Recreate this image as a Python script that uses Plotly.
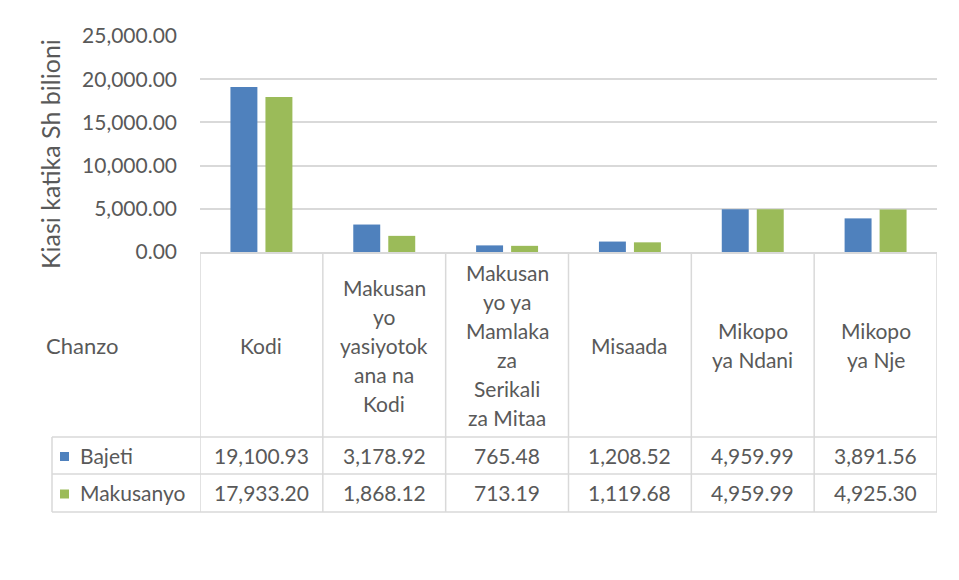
import plotly.graph_objects as go

# ---- data ----
categories = ["Kodi", "Makusanyo yasiyotokana na Kodi",
              "Makusanyo ya Mamlaka za Serikali za Mitaa",
              "Misaada", "Mikopo ya Ndani", "Mikopo ya Nje"]
header_labels = ["Kodi", "Makusan<br>yo<br>yasiyotok<br>ana na<br>Kodi",
                 "Makusan<br>yo ya<br>Mamlaka<br>za<br>Serikali<br>za Mitaa",
                 "Misaada", "Mikopo<br>ya Ndani", "Mikopo<br>ya Nje"]
series_names = ["Bajeti", "Makusanyo"]
bajeti = [19100.93, 3178.92, 765.48, 1208.52, 4959.99, 3891.56]
makusanyo = [17933.20, 1868.12, 713.19, 1119.68, 4959.99, 4925.30]
y_title = "Kiasi katika Sh bilioni"
table_header = "Chanzo"

colors = ["#4F81BD", "#9BBB59"]
txt = "#595959"
grid = "#D9D9D9"
FONT = "Lato, Carlito, Calibri, sans-serif"
FS = 21

# page is shifted by the default 8px body margin
OFF = 8
W, H = 959 - OFF, 580 - OFF
PL, PR, PT, PB = 200, 937, 36, 252   # screen pixel positions of plot area


def py(y):
    return (PB - y) / (PB - PT)


def px(x):
    return (x - PL) / (PR - PL)


fig = go.Figure()
for name, vals, c in zip(series_names, [bajeti, makusanyo], colors):
    fig.add_trace(go.Bar(x=categories, y=vals, name=name, marker=dict(color=c, line=dict(width=0))))

annotations = []
shapes = []

# header row
row_center = 345
line_sp = 29
for i, lab in enumerate(header_labels):
    lines = lab.split("<br>")
    n = len(lines)
    for k, ln in enumerate(lines):
        yc = row_center + (k - (n - 1) / 2) * line_sp
        annotations.append(dict(x=categories[i], xref="x", y=py(yc), yref="paper", text=ln,
                                showarrow=False, xanchor="center", yanchor="middle",
                                font=dict(family=FONT, size=FS, color=txt)))

annotations.append(dict(x=px(44), xref="paper", y=py(row_center), yref="paper", text=table_header,
                        showarrow=False, xanchor="left", yanchor="middle",
                        font=dict(family=FONT, size=FS + 1, color=txt)))

# data rows
row_tops = [437, 474, 512]
for r, (name, vals, c) in enumerate(zip(series_names, [bajeti, makusanyo], colors)):
    yc = (row_tops[r] + row_tops[r + 1]) / 2
    for i, v in enumerate(vals):
        annotations.append(dict(x=categories[i], xref="x", y=py(yc), yref="paper", text=f"{v:,.2f}",
                                showarrow=False, xanchor="center", yanchor="middle",
                                font=dict(family=FONT, size=FS, color=txt)))
    annotations.append(dict(x=px(78), xref="paper", y=py(yc), yref="paper", text=name,
                            showarrow=False, xanchor="left", yanchor="middle",
                            font=dict(family=FONT, size=FS, color=txt)))
    shapes.append(dict(type="rect", xref="paper", yref="paper", x0=px(60), x1=px(69),
                       y0=py(yc - 3.5), y1=py(yc + 5.5), fillcolor=c, line=dict(width=0)))

# table grid
lc = dict(color=grid, width=1.5)
for i in range(len(categories) + 1):
    shapes.append(dict(type="line", xref="x", yref="paper", x0=i - 0.5, x1=i - 0.5,
                       y0=py(PB), y1=py(row_tops[-1]), line=lc))
for yv in row_tops:
    shapes.append(dict(type="line", xref="x", yref="paper", x0=-0.5, x1=len(categories) - 0.5,
                       y0=py(yv), y1=py(yv), line=lc))
    shapes.append(dict(type="line", xref="paper", yref="paper", x0=px(52), x1=0,
                       y0=py(yv), y1=py(yv), line=lc))
shapes.append(dict(type="line", xref="paper", yref="paper", x0=px(52), x1=px(52),
                   y0=py(row_tops[0]), y1=py(row_tops[-1]), line=lc))

# outer chart border (right side visible)
shapes.append(dict(type="line", xref="paper", yref="paper", x0=px(952), x1=px(952),
                   y0=py(5), y1=py(600), line=dict(color="#E3E3E3", width=1.5)))

# y-axis title
annotations.append(dict(x=px(50), xref="paper", y=py(154), yref="paper", text=y_title, textangle=-90,
                        showarrow=False, xanchor="center", yanchor="middle",
                        font=dict(family=FONT, size=25, color=txt)))

fig.update_layout(
    width=W, height=H,
    margin=dict(l=PL - OFF, r=959 - PR, t=PT - OFF, b=580 - PB, pad=0),
    paper_bgcolor="white", plot_bgcolor="white",
    barmode="group", bargap=0.43, bargroupgap=0.23,
    showlegend=False,
    font=dict(family=FONT, size=FS, color=txt),
    annotations=annotations, shapes=shapes,
)
fig.update_xaxes(showticklabels=False, showgrid=False, ticks="", showline=True,
                 linecolor=grid, linewidth=1.5, range=[-0.5, 5.5], fixedrange=True)
fig.update_yaxes(range=[0, 25000], dtick=5000, tickformat=",.2f", showgrid=True, gridcolor=grid,
                 gridwidth=1.5, zeroline=False, showline=False, ticks="", ticklabelstandoff=22,
                 tickfont=dict(family=FONT, size=FS, color=txt))

fig.write_html("out.html")
